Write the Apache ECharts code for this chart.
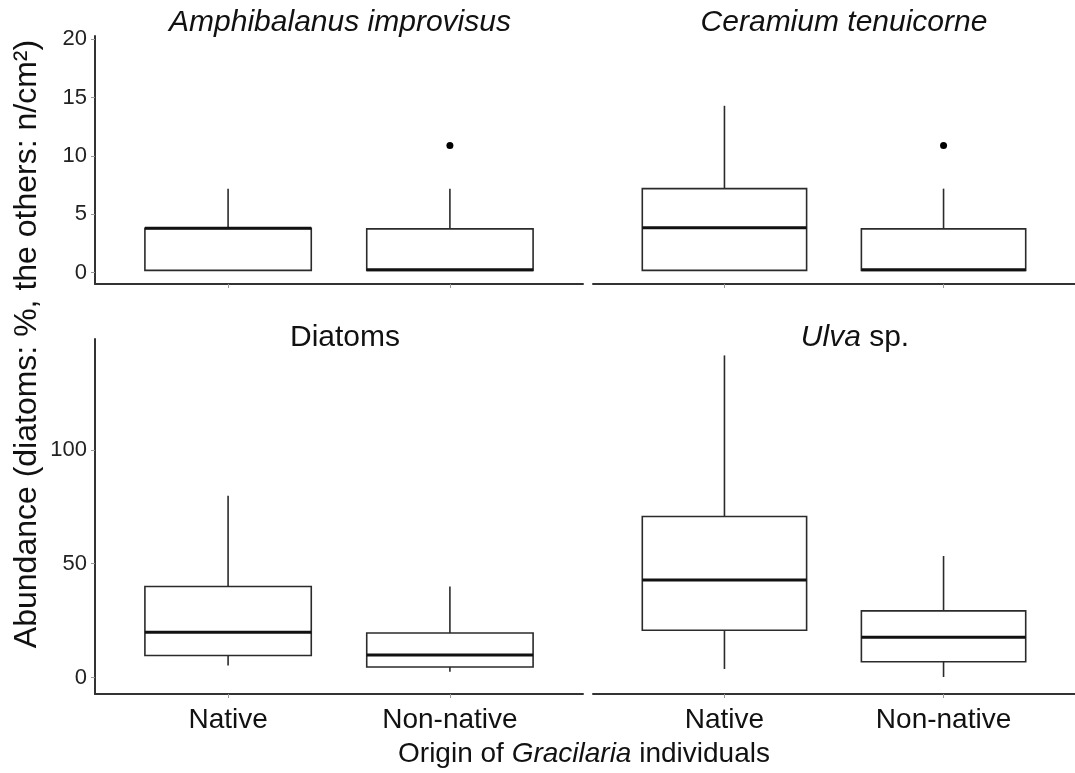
<!DOCTYPE html>
<html>
<head>
<meta charset="utf-8">
<script src="https://cdn.jsdelivr.net/npm/echarts@6/dist/echarts.min.js"></script>
<style>
  html, body { margin: 0; padding: 0; background: #fff; }
  #chart { width: 1075px; height: 773px; }
</style>
</head>
<body>
<div id="chart"></div>
<script>
// categories on every panel
const groups = ['Native', 'Non-native'];

// box stats per group: [lower whisker, Q1, median, Q3, upper whisker]
const amphibalanus = [[0.2, 0.2, 3.8, 3.8, 7.2], [0.2, 0.2, 0.25, 3.75, 7.2]];
const amphibalanusOut = [[2, 10.9]];
const ceramium = [[0.2, 0.2, 3.85, 7.2, 14.3], [0.2, 0.2, 0.25, 3.75, 7.2]];
const ceramiumOut = [[2, 10.9]];
const diatoms = [[5.3, 9.7, 19.9, 40.0, 79.8], [2.6, 4.7, 10.0, 19.6, 40.0]];
const ulva = [[3.8, 20.8, 42.9, 70.7, 141.4], [0.3, 7.0, 17.7, 29.3, 53.4]];

// y tick labels
const topTicks = [0, 5, 10, 15, 20];
const bottomTicks = [0, 50, 100];

const FONT = 'Liberation Sans, Arial, sans-serif';
const chart = echarts.init(document.getElementById('chart'));

// panel boxes (ggplot facet layout)
const grids = [
  { left: 95, top: 36, width: 488, height: 248 },
  { left: 593, top: 36, width: 488, height: 248 },
  { left: 95, top: 339, width: 488, height: 355 },
  { left: 593, top: 339, width: 488, height: 355 }
];

function xAxisFor(i) {
  const bottom = i >= 2;
  return {
    type: 'value', gridIndex: i, min: 0.4, max: 2.6,
    splitLine: { show: false },
    axisLine: { show: true, onZero: false, lineStyle: { color: '#333', width: 2 } },
    axisTick: { show: true, customValues: [1, 2], length: 4, lineStyle: { color: '#999', width: 1 } },
    axisLabel: {
      show: bottom, customValues: [1, 2], margin: 12,
      fontSize: 28, color: '#111', fontFamily: FONT,
      formatter: v => groups[Math.round(v) - 1] || ''
    }
  };
}

function yAxisFor(i) {
  const top = i < 2;
  const ticks = top ? topTicks : bottomTicks;
  const visible = i % 2 === 0;
  return {
    type: 'value', gridIndex: i,
    min: top ? -0.97 : -7.16, max: top ? 20.28 : 148.6,
    show: visible,
    splitLine: { show: false },
    axisLine: { show: true, lineStyle: { color: '#333', width: 2 } },
    axisTick: { show: true, customValues: ticks, length: 4, lineStyle: { color: '#999', width: 1 } },
    axisLabel: { customValues: ticks, margin: 8, fontSize: 22, color: '#222', fontFamily: FONT }
  };
}

function renderBox(params, api) {
  const x = api.value(0);
  const lo = api.coord([x, api.value(1)]);
  const q1 = api.coord([x, api.value(2)]);
  const med = api.coord([x, api.value(3)]);
  const q3 = api.coord([x, api.value(4)]);
  const hi = api.coord([x, api.value(5)]);
  const w = api.size([0.75, 0])[0];
  const left = q1[0] - w / 2;
  const thin = { stroke: '#2b2b2b', lineWidth: 1.6 };
  return {
    type: 'group',
    children: [
      { type: 'line', shape: { x1: hi[0], y1: hi[1], x2: q3[0], y2: q3[1] }, style: thin },
      { type: 'line', shape: { x1: lo[0], y1: lo[1], x2: q1[0], y2: q1[1] }, style: thin },
      { type: 'rect', shape: { x: left, y: q3[1], width: w, height: q1[1] - q3[1] },
        style: { fill: '#fff', stroke: '#2b2b2b', lineWidth: 1.6 } },
      { type: 'line', shape: { x1: left, y1: med[1], x2: left + w, y2: med[1] },
        style: { stroke: '#111', lineWidth: 3 } }
    ]
  };
}

function boxSeries(i, stats) {
  return {
    type: 'custom', xAxisIndex: i, yAxisIndex: i,
    renderItem: renderBox,
    encode: { x: 0, y: [1, 2, 3, 4, 5] },
    data: stats.map((d, k) => [k + 1].concat(d)),
    silent: true
  };
}

function outlierSeries(i, pts) {
  return {
    type: 'scatter', xAxisIndex: i, yAxisIndex: i,
    symbol: 'circle', symbolSize: 7,
    itemStyle: { color: '#000', opacity: 1 },
    data: pts, silent: true
  };
}

const titleStyle = { fontSize: 30, fontFamily: FONT, fill: '#111', align: 'center', verticalAlign: 'middle' };

chart.setOption({
  animation: false,
  grid: grids,
  xAxis: [0, 1, 2, 3].map(xAxisFor),
  yAxis: [0, 1, 2, 3].map(yAxisFor),
  series: [
    boxSeries(0, amphibalanus), outlierSeries(0, amphibalanusOut),
    boxSeries(1, ceramium), outlierSeries(1, ceramiumOut),
    boxSeries(2, diatoms),
    boxSeries(3, ulva)
  ],
  graphic: [
    { type: 'text', x: 340, y: 23, style: Object.assign({ text: 'Amphibalanus improvisus', fontStyle: 'italic' }, titleStyle) },
    { type: 'text', x: 844, y: 23, style: Object.assign({ text: 'Ceramium tenuicorne', fontStyle: 'italic' }, titleStyle) },
    { type: 'text', x: 345, y: 338, style: Object.assign({ text: 'Diatoms' }, titleStyle) },
    { type: 'text', x: 855, y: 338, style: Object.assign({
        text: '{i|Ulva} sp.',
        rich: { i: { fontStyle: 'italic', fontSize: 30, fontFamily: FONT, fill: '#111' } }
      }, titleStyle) },
    { type: 'text', x: 584, y: 754, style: {
        text: 'Origin of {i|Gracilaria} individuals',
        fontSize: 28, fontFamily: FONT, fill: '#111', align: 'center', verticalAlign: 'middle',
        rich: { i: { fontStyle: 'italic', fontSize: 28, fontFamily: FONT, fill: '#111' } }
      } },
    { type: 'text', x: 27, y: 344, rotation: Math.PI / 2, style: {
        text: 'Abundance (diatoms: %, the others: n/cm\u00B2)',
        fontSize: 32, fontFamily: FONT, fill: '#111', align: 'center', verticalAlign: 'middle'
      } }
  ]
});
</script>
</body>
</html>
